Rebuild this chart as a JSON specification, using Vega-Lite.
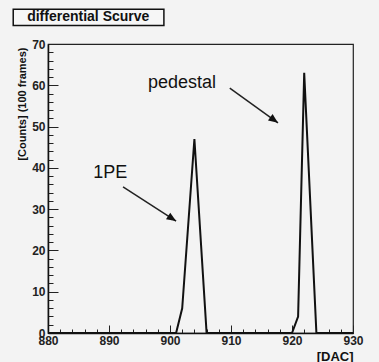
{
  "$schema": "https://vega.github.io/schema/vega-lite/v6.json",
  "width": 305,
  "height": 289,
  "autosize": {"type": "none"},
  "padding": {"left": 48, "top": 44, "right": 26, "bottom": 29},
  "background": "#f3f3f3",
  "config": {
    "view": {"stroke": "#222", "strokeWidth": 1.2, "fill": "#f3f3f3"},
    "font": "Liberation Sans"
  },
  "datasets": {
    "curve": [
      {"dac": 880, "counts": 0},
      {"dac": 901, "counts": 0},
      {"dac": 902, "counts": 6},
      {"dac": 904, "counts": 47},
      {"dac": 906, "counts": 0},
      {"dac": 920, "counts": 0},
      {"dac": 921, "counts": 4},
      {"dac": 922, "counts": 63},
      {"dac": 924, "counts": 0},
      {"dac": 930, "counts": 0}
    ],
    "arrows": [
      {"x": 892.3, "y": 35.4, "x2": 901.0, "y2": 27.1, "angle": 123},
      {"x": 909.8, "y": 59.3, "x2": 917.7, "y2": 50.9, "angle": 126}
    ],
    "labels": [
      {"x": 887.4, "y": 37.5, "text": "1PE"},
      {"x": 896.4, "y": 59.3, "text": "pedestal"}
    ],
    "titlebox": [
      {"x": 874.3, "x2": 899.0, "y": 78.4, "y2": 74.5, "xc": 886.6, "yc": 76.45, "text": "differential Scurve"}
    ]
  },
  "layer": [
    {
      "data": {"name": "curve"},
      "mark": {"type": "line", "color": "#111", "strokeWidth": 2},
      "encoding": {
        "x": {
          "field": "dac", "type": "quantitative",
          "scale": {"domain": [880, 930], "nice": false, "zero": false},
          "axis": {
            "title": "[DAC]", "titleAnchor": "end", "titleFontWeight": "bold", "titleFontSize": 13, "titlePadding": 0, "titleColor": "#111",
            "values": [880,882,884,886,888,890,892,894,896,898,900,902,904,906,908,910,912,914,916,918,920,922,924,926,928,930],
            "tickCount": 200,
            "format": "d",
            "labelExpr": "datum.value % 10 == 0 ? datum.label : ''",
            "labelFontWeight": "bold", "labelFontSize": 12, "labelColor": "#222",
            "tickSize": {"condition": {"test": "datum.value % 10 == 0", "value": -8}, "value": -4},
            "labelPadding": 10,
            "tickColor": "#222", "domainColor": "#111", "domainWidth": 1.5,
            "grid": false, "labelFlush": false, "labelOverlap": false
          }
        },
        "y": {
          "field": "counts", "type": "quantitative",
          "scale": {"domain": [0, 70], "nice": false},
          "axis": {
            "title": "[Counts] (100 frames)", "titleAnchor": "end", "titleFontWeight": "bold", "titleFontSize": 11, "titlePadding": 4, "titleColor": "#111",
            "titleY": 3,
            "values": [0,2,4,6,8,10,12,14,16,18,20,22,24,26,28,30,32,34,36,38,40,42,44,46,48,50,52,54,56,58,60,62,64,66,68,70],
            "tickCount": 200,
            "format": "d",
            "labelExpr": "datum.value % 10 == 0 ? datum.label : ''",
            "labelFontWeight": "bold", "labelFontSize": 12, "labelColor": "#222",
            "tickSize": {"condition": {"test": "datum.value % 10 == 0", "value": -10}, "value": -5},
            "labelPadding": 13,
            "tickColor": "#222", "domainColor": "#111", "domainWidth": 1.5,
            "grid": false, "labelFlush": false, "labelOverlap": false
          }
        }
      }
    },
    {
      "data": {"name": "arrows"},
      "mark": {"type": "rule", "color": "#222", "strokeWidth": 1.5},
      "encoding": {
        "x": {"field": "x", "type": "quantitative"},
        "y": {"field": "y", "type": "quantitative"},
        "x2": {"field": "x2"},
        "y2": {"field": "y2"}
      }
    },
    {
      "data": {"name": "arrows"},
      "mark": {"type": "point", "shape": "M0,0L-0.45,1.1L0.45,1.1Z", "filled": true, "color": "#111", "size": 300, "opacity": 1},
      "encoding": {
        "x": {"field": "x2", "type": "quantitative"},
        "y": {"field": "y2", "type": "quantitative"},
        "angle": {"field": "angle", "type": "quantitative", "scale": null}
      }
    },
    {
      "data": {"name": "labels"},
      "mark": {"type": "text", "align": "left", "baseline": "alphabetic", "fontSize": 18, "color": "#111"},
      "encoding": {
        "x": {"field": "x", "type": "quantitative"},
        "y": {"field": "y", "type": "quantitative"},
        "text": {"field": "text"}
      }
    },
    {
      "data": {"name": "titlebox"},
      "mark": {"type": "rect", "fill": "#f6f6f6", "stroke": "#111", "strokeWidth": 1.5},
      "encoding": {
        "x": {"field": "x", "type": "quantitative"},
        "x2": {"field": "x2"},
        "y": {"field": "y", "type": "quantitative"},
        "y2": {"field": "y2"}
      }
    },
    {
      "data": {"name": "titlebox"},
      "mark": {"type": "text", "align": "center", "baseline": "middle", "fontSize": 14, "fontWeight": "bold", "color": "#111"},
      "encoding": {
        "x": {"field": "xc", "type": "quantitative"},
        "y": {"field": "yc", "type": "quantitative"},
        "text": {"field": "text"}
      }
    }
  ]
}
